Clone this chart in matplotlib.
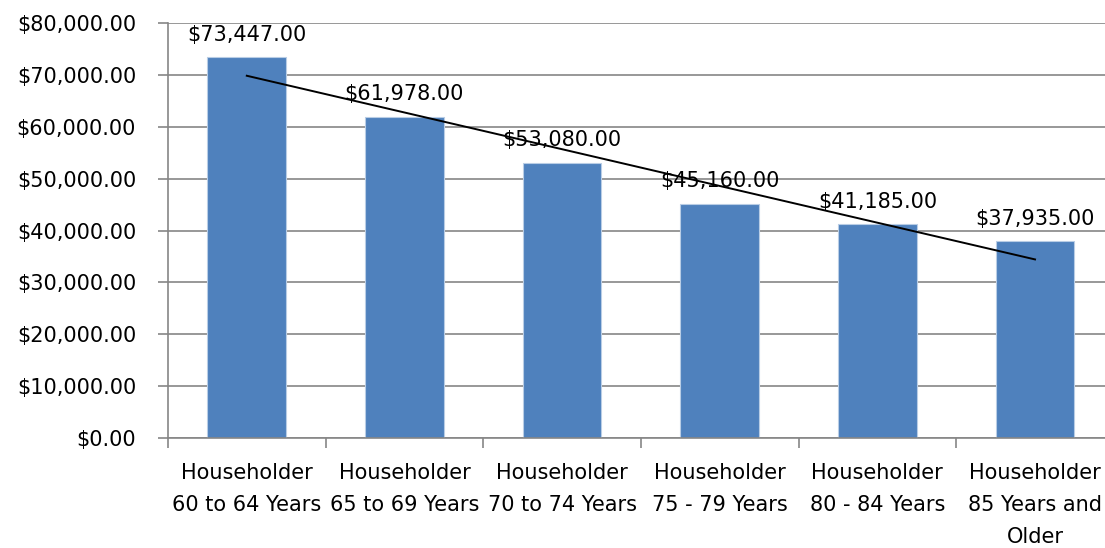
import numpy as np
import matplotlib
matplotlib.use("Agg")
import matplotlib.pyplot as plt
from matplotlib.ticker import FuncFormatter, MultipleLocator

categories = [
    "Householder\n60 to 64 Years",
    "Householder\n65 to 69 Years",
    "Householder\n70 to 74 Years",
    "Householder\n75 - 79 Years",
    "Householder\n80 - 84 Years",
    "Householder\n85 Years and\nOlder",
]
income = [73447, 61978, 53080, 45160, 41185, 37935]

BAR_COLOR = "#4F81BD"
GRID_COLOR = "#868686"

plt.rcParams["font.family"] = ["DejaVu Sans"]
plt.rcParams["font.size"] = 15


def money(v, pos=None):
    return f"${v:,.2f}"


fig = plt.figure(figsize=(11.05, 5.48), dpi=100)
ax = fig.add_axes([0.152, 0.2007, 0.856, 0.7573])

x = np.arange(len(categories))
bars = ax.bar(x, income, width=0.5, color=BAR_COLOR, edgecolor="#B9CDE5",
              linewidth=0.8, zorder=2)

# linear trendline like Excel's
slope, intercept = np.polyfit(x, income, 1)
ax.plot([x[0], x[-1]], [intercept + slope * x[0], intercept + slope * x[-1]],
        color="black", linewidth=1.4, zorder=3)

for xi, v in zip(x, income):
    ax.annotate(money(v), (xi, v), xytext=(0, 9), textcoords="offset points",
                ha="center", va="bottom", fontsize=15, zorder=4)

ax.set_xlim(-0.5, len(categories) - 0.5)
ax.set_ylim(0, 80000)
ax.yaxis.set_major_locator(MultipleLocator(10000))
ax.yaxis.set_major_formatter(FuncFormatter(money))
ax.grid(axis="y", color=GRID_COLOR, linewidth=1.2, zorder=0)
ax.set_axisbelow(True)

ax.set_xticks(x)
ax.set_xticklabels(categories, linespacing=1.75)
ax.set_xticks(np.arange(len(categories)) - 0.5, minor=True)
ax.tick_params(axis="x", which="major", length=0, pad=18)
ax.tick_params(axis="x", which="minor", length=7, color=GRID_COLOR, width=1.2,
               direction="out")
ax.tick_params(axis="y", length=7, color=GRID_COLOR, width=1.2, pad=16)

for side in ("top", "right"):
    ax.spines[side].set_visible(False)
for side in ("left", "bottom"):
    ax.spines[side].set_color(GRID_COLOR)
    ax.spines[side].set_linewidth(1.2)

fig.savefig("out.png", dpi=100)
